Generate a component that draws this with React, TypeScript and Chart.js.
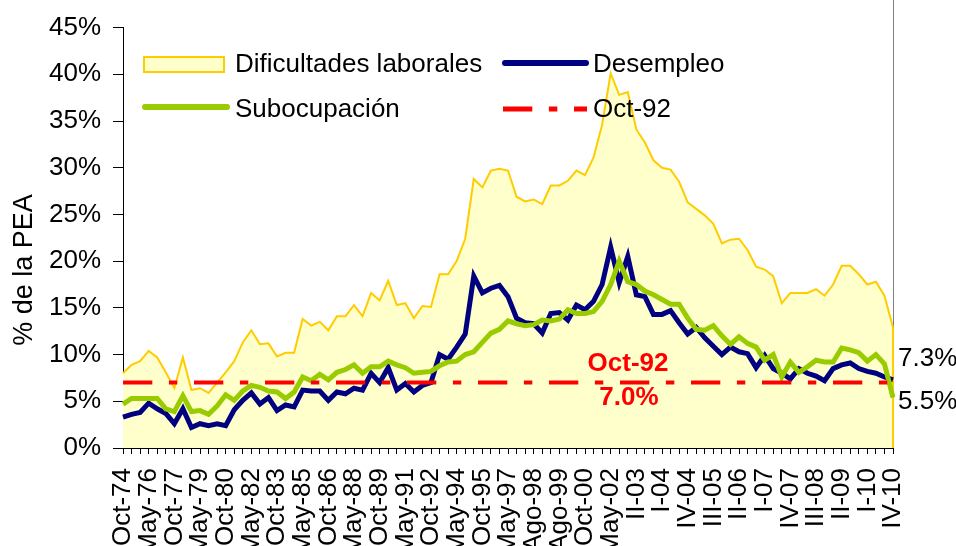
import React, { useEffect, useRef } from 'react';
import { Chart, registerables } from 'chart.js';

Chart.register(...registerables);

// ---------- DATA ----------
const categories: string[] = [
  'Oct-74', 'May-75', 'Oct-75', 'May-76', 'Oct-76', 'May-77', 'Oct-77', 'May-78', 'Oct-78', 'May-79',
  'Oct-79', 'May-80', 'Oct-80', 'May-81', 'Oct-81', 'May-82', 'Oct-82', 'May-83', 'Oct-83', 'May-84',
  'Oct-84', 'May-85', 'Oct-85', 'May-86', 'Oct-86', 'May-87', 'Oct-87', 'May-88', 'Oct-88', 'May-89',
  'Oct-89', 'May-90', 'Oct-90', 'May-91', 'Oct-91', 'May-92', 'Oct-92', 'May-93', 'Oct-93', 'May-94',
  'Oct-94', 'May-95', 'Oct-95', 'May-96', 'Oct-96', 'May-97', 'Oct-97', 'May-98', 'Ago-98', 'Oct-98',
  'May-99', 'Ago-99', 'Oct-99', 'May-00', 'Oct-00', 'May-01', 'Oct-01', 'May-02', 'Oct-02', 'May-03',
  'II-03', 'III-03', 'IV-03', 'I-04', 'II-04', 'III-04', 'IV-04', 'I-05', 'II-05', 'III-05',
  'IV-05', 'I-06', 'II-06', 'III-06', 'IV-06', 'I-07', 'II-07', 'III-07', 'IV-07', 'I-08',
  'II-08', 'III-08', 'IV-08', 'I-09', 'II-09', 'III-09', 'IV-09', 'I-10', 'II-10', 'III-10',
  'IV-10',
];

const dificultades: number[] = [
  8.0, 8.9, 9.3, 10.4, 9.7, 8.1, 6.4, 9.7, 6.2, 6.4,
  5.9, 7.0, 8.1, 9.3, 11.3, 12.6, 11.1, 11.2, 9.8, 10.2,
  10.2, 13.8, 13.1, 13.5, 12.6, 14.1, 14.1, 15.3, 14.1, 16.6,
  15.8, 17.9, 15.3, 15.5, 13.9, 15.2, 15.1, 18.6, 18.6, 20.0,
  22.4, 28.8, 27.9, 29.7, 29.9, 29.7, 26.9, 26.4, 26.6, 26.1,
  28.1, 28.1, 28.6, 29.7, 29.2, 31.1, 34.6, 40.1, 37.8, 38.1,
  34.1, 32.7, 30.8, 30.0, 29.8, 28.5, 26.3, 25.6, 24.9, 24.0,
  21.9, 22.3, 22.4, 21.2, 19.4, 19.1, 18.4, 15.5, 16.6, 16.6,
  16.6, 17.0, 16.3, 17.5, 19.5, 19.5, 18.6, 17.5, 17.8, 16.3,
  12.9,
];

const desempleo: number[] = [
  3.3, 3.6, 3.8, 4.8, 4.2, 3.7, 2.6, 4.2, 2.2, 2.6,
  2.4, 2.6, 2.4, 4.1, 5.1, 5.9, 4.7, 5.4, 4.0, 4.6,
  4.4, 6.2, 6.1, 6.1, 5.1, 6.0, 5.8, 6.4, 6.2, 8.0,
  7.0, 8.6, 6.2, 6.9, 6.0, 6.7, 7.0, 10.0, 9.5, 10.8,
  12.2, 18.4, 16.6, 17.1, 17.4, 16.2, 13.9, 13.4, 13.3, 12.3,
  14.4, 14.5, 13.7, 15.3, 14.8, 15.7, 17.5, 21.5, 17.7, 20.5,
  16.4, 16.2, 14.3, 14.3, 14.7, 13.4, 12.2, 12.9, 11.8, 10.9,
  10.0, 10.8, 10.3, 10.1, 8.6, 9.9, 8.5, 8.0, 7.4, 8.5,
  8.0, 7.7, 7.2, 8.5, 8.9, 9.1, 8.5, 8.2, 8.0, 7.6,
  7.3,
];

const subocupacion: number[] = [
  4.7, 5.3, 5.3, 5.3, 5.3, 4.2, 3.9, 5.6, 3.9, 4.0,
  3.6, 4.5, 5.7, 5.1, 6.1, 6.7, 6.5, 6.1, 6.0, 5.3,
  6.0, 7.6, 7.2, 7.9, 7.3, 8.1, 8.4, 8.9, 8.0, 8.7,
  8.7, 9.3, 8.9, 8.6, 8.0, 8.1, 8.2, 8.8, 9.2, 9.3,
  10.0, 10.3, 11.3, 12.3, 12.7, 13.6, 13.3, 13.1, 13.2, 13.7,
  13.6, 13.8, 14.8, 14.4, 14.4, 14.6, 15.7, 17.5, 20.0, 17.8,
  17.5, 16.8, 16.4, 15.9, 15.4, 15.4, 13.9, 12.7, 12.6, 13.1,
  12.0, 11.1, 11.9, 11.2, 10.8, 9.4, 10.0, 7.6, 9.2, 8.1,
  8.7, 9.4, 9.2, 9.2, 10.7, 10.5, 10.2, 9.3, 10.0, 9.0,
  5.4,
];

const refLabel = 'Oct-92';
const refValue = 7.0;
const refValueText = '7.0%';
const endDesempleoText = '7.3%';
const endSubocupacionText = '5.5%';
const yMin = 0;
const yMax = 45;
const yStep = 5;
const labelEvery = 3;
const yTitle = '% de la PEA';
const seriesNames = ['Dificultades laborales', 'Desempleo', 'Subocupación', 'Oct-92'];

// ---------- STYLE ----------
const FONT = '"Liberation Sans", Arial, sans-serif';
const YELLOW_FILL = '#FFFFCC';
const YELLOW_LINE = '#FFCC00';
const NAVY = '#000080';
const GREEN = '#99CC00';
const RED = '#FF0000';
const DASH = [29.3, 16.6, 8.4, 16.7];

const decorPlugin = {
  id: 'decor',
  beforeDatasetsDraw(chart: any) {
    const { ctx, chartArea } = chart;
    ctx.save();
    ctx.strokeStyle = '#7f7f7f';
    ctx.lineWidth = 1;
    ctx.beginPath();
    ctx.moveTo(chartArea.right + 0.5, 0);
    ctx.lineTo(chartArea.right + 0.5, chartArea.bottom);
    ctx.stroke();
    ctx.restore();
  },
  afterDatasetDraw(chart: any, args: any) {
    const ds = chart.data.datasets[args.index];
    if (ds.label !== seriesNames[0]) return;
    const pts = args.meta.data;
    const last = pts[pts.length - 1];
    const { ctx, chartArea } = chart;
    ctx.save();
    ctx.strokeStyle = YELLOW_LINE;
    ctx.lineWidth = 2;
    ctx.beginPath();
    ctx.moveTo(last.x, last.y);
    ctx.lineTo(last.x, chartArea.bottom);
    ctx.stroke();
    ctx.restore();
  },
  afterDraw(chart: any) {
    const { ctx, chartArea, scales } = chart;
    const y = scales.y;
    ctx.save();

    // Y axis title
    ctx.save();
    ctx.translate(25, 270);
    ctx.rotate(-Math.PI / 2);
    ctx.font = `27px ${FONT}`;
    ctx.fillStyle = '#000';
    ctx.textAlign = 'center';
    ctx.textBaseline = 'middle';
    ctx.fillText(yTitle, 0, 0);
    ctx.restore();

    // Legend
    ctx.font = `26px ${FONT}`;
    ctx.textAlign = 'left';
    ctx.textBaseline = 'alphabetic';
    // row 1
    ctx.fillStyle = YELLOW_FILL;
    ctx.fillRect(144, 57, 80, 15);
    ctx.strokeStyle = YELLOW_LINE;
    ctx.lineWidth = 2;
    ctx.strokeRect(144, 57, 80, 15);
    ctx.fillStyle = '#000';
    ctx.fillText(seriesNames[0], 235, 72);

    ctx.lineCap = 'round';
    ctx.strokeStyle = NAVY;
    ctx.lineWidth = 6;
    ctx.beginPath();
    ctx.moveTo(505, 63);
    ctx.lineTo(586, 63);
    ctx.stroke();
    ctx.fillText(seriesNames[1], 593, 72);

    // row 2
    ctx.strokeStyle = GREEN;
    ctx.beginPath();
    ctx.moveTo(145, 107);
    ctx.lineTo(227, 107);
    ctx.stroke();
    ctx.fillText(seriesNames[2], 235, 117);

    ctx.lineCap = 'butt';
    ctx.strokeStyle = RED;
    ctx.lineWidth = 5;
    ctx.setLineDash(DASH);
    ctx.beginPath();
    ctx.moveTo(503, 109);
    ctx.lineTo(587, 109);
    ctx.stroke();
    ctx.setLineDash([]);
    ctx.fillText(seriesNames[3], 593, 117);

    // Reference annotation
    const yRef = y.getPixelForValue(refValue);
    ctx.fillStyle = RED;
    ctx.font = `bold 26px ${FONT}`;
    ctx.textAlign = 'center';
    ctx.textBaseline = 'middle';
    ctx.fillText(refLabel, 628, yRef - 19);
    ctx.fillText(refValueText, 629, yRef + 15);

    // End labels
    ctx.fillStyle = '#000';
    ctx.font = `26px ${FONT}`;
    ctx.textAlign = 'left';
    const yD = y.getPixelForValue(desempleo[desempleo.length - 1]);
    const yS = y.getPixelForValue(subocupacion[subocupacion.length - 1]);
    ctx.fillText(endDesempleoText, chartArea.right + 5, yD - 21);
    ctx.fillText(endSubocupacionText, chartArea.right + 5, yS + 4);

    ctx.restore();
  },
};

export default function App() {
  const canvasRef = useRef<HTMLCanvasElement | null>(null);

  useEffect(() => {
    const canvas = canvasRef.current;
    if (!canvas) return;
    const chart = new Chart(canvas, {
      type: 'line',
      data: {
        labels: categories,
        datasets: [
          {
            label: seriesNames[3],
            data: [
              { x: categories[0], y: refValue },
              { x: categories[categories.length - 1], y: refValue },
            ] as any,
            borderColor: RED,
            borderWidth: 4,
            borderDash: DASH,
            borderCapStyle: 'butt',
            pointRadius: 0,
            fill: false,
          },
          {
            label: seriesNames[2],
            data: subocupacion,
            borderColor: GREEN,
            borderWidth: 5,
            pointRadius: 0,
            fill: false,
            tension: 0,
          },
          {
            label: seriesNames[1],
            data: desempleo,
            borderColor: NAVY,
            borderWidth: 5,
            pointRadius: 0,
            fill: false,
            tension: 0,
          },
          {
            label: seriesNames[0],
            data: dificultades,
            borderColor: YELLOW_LINE,
            backgroundColor: YELLOW_FILL,
            borderWidth: 2,
            pointRadius: 0,
            fill: 'origin',
            tension: 0,
          },
        ],
      },
      options: {
        animation: false,
        responsive: false,
        maintainAspectRatio: false,
        devicePixelRatio: 1,
        events: [],
        layout: { padding: { top: 24, right: 63, left: 0, bottom: 0 } },
        plugins: {
          legend: { display: false },
          tooltip: { enabled: false },
          title: { display: false },
        },
        scales: {
          x: {
            type: 'category',
            offset: false,
            z: 1,
            grid: {
              drawOnChartArea: false,
              drawTicks: true,
              tickLength: 6,
              color: '#000',
              lineWidth: 1,
            },
            border: { color: '#000', width: 1 },
            ticks: {
              autoSkip: false,
              maxRotation: 90,
              minRotation: 90,
              padding: 14,
              color: '#000',
              font: { family: FONT, size: 26 },
              callback: function (this: any, value: any, index: number) {
                return index % labelEvery === 0 ? categories[index] : '';
              },
            },
            afterFit: (scale: any) => {
              scale.height = 98;
            },
          },
          y: {
            min: yMin,
            max: yMax,
            z: 1,
            grid: {
              drawOnChartArea: false,
              drawTicks: true,
              tickLength: 10,
              color: '#000',
              lineWidth: 1,
            },
            border: { color: '#000', width: 1 },
            ticks: {
              stepSize: yStep,
              padding: 12,
              color: '#000',
              font: { family: FONT, size: 26 },
              callback: (v: any) => `${v}%`,
            },
            afterFit: (scale: any) => {
              scale.width = 123;
            },
          },
        },
      },
      plugins: [decorPlugin],
    } as any);
    return () => chart.destroy();
  }, []);

  return (
    <div
      style={{
        position: 'fixed',
        left: 0,
        top: 0,
        width: 956,
        height: 546,
        background: '#fff',
        overflow: 'hidden',
      }}
    >
      <canvas ref={canvasRef} width={956} height={546} style={{ width: 956, height: 546, display: 'block' }} />
    </div>
  );
}
